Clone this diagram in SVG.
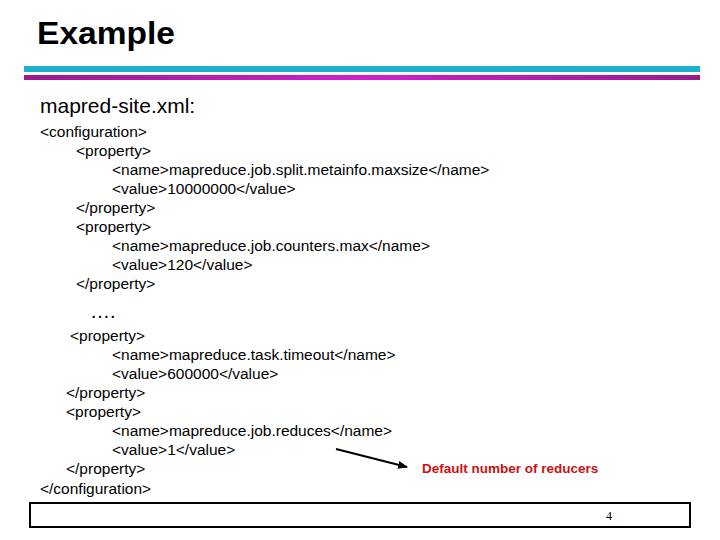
<svg xmlns="http://www.w3.org/2000/svg" width="720" height="540" viewBox="0 0 720 540">
<style>
.t{font-family:"Liberation Sans",Arial,sans-serif;font-size:15.5px;fill:#000}
</style>
<defs>
<linearGradient id="m" x1="0" x2="1"><stop offset="0" stop-color="#9a1a8e"/><stop offset="0.5" stop-color="#d21ed0"/><stop offset="1" stop-color="#9a1a8e"/></linearGradient>
<marker id="a" viewBox="0 0 10 10" refX="9" refY="5" markerWidth="5" markerHeight="5" orient="auto"><path d="M0,1 L10,5 L0,9 z" fill="#000"/></marker>
</defs>
<rect width="720" height="540" fill="#fff"/>
<text x="37" y="44" font-family="'Liberation Sans',Arial,sans-serif" font-weight="bold" font-size="31" fill="#000" textLength="138" lengthAdjust="spacingAndGlyphs">Example</text>
<rect x="24" y="66" width="676" height="6" fill="#1fb0cc"/>
<rect x="24" y="75" width="676" height="5" fill="url(#m)"/>
<g id="content">
<text x="40" y="113" font-family="'Liberation Sans',Arial,sans-serif" font-size="21">mapred-site.xml:</text>
<text class="t" x="40" y="137">&lt;configuration&gt;</text>
<text class="t" x="76" y="156">&lt;property&gt;</text>
<text class="t" x="112" y="175">&lt;name&gt;mapreduce.job.split.metainfo.maxsize&lt;/name&gt;</text>
<text class="t" x="112" y="194">&lt;value&gt;10000000&lt;/value&gt;</text>
<text class="t" x="76" y="213">&lt;/property&gt;</text>
<text class="t" x="76" y="232">&lt;property&gt;</text>
<text class="t" x="112" y="251">&lt;name&gt;mapreduce.job.counters.max&lt;/name&gt;</text>
<text class="t" x="112" y="270">&lt;value&gt;120&lt;/value&gt;</text>
<text class="t" x="76" y="289">&lt;/property&gt;</text>
<text x="90" y="318" font-family="'Liberation Sans',Arial,sans-serif" font-size="20">….</text>
<text class="t" x="70" y="341">&lt;property&gt;</text>
<text class="t" x="112" y="360">&lt;name&gt;mapreduce.task.timeout&lt;/name&gt;</text>
<text class="t" x="112" y="379">&lt;value&gt;600000&lt;/value&gt;</text>
<text class="t" x="66" y="398">&lt;/property&gt;</text>
<text class="t" x="66" y="417">&lt;property&gt;</text>
<text class="t" x="112" y="436">&lt;name&gt;mapreduce.job.reduces&lt;/name&gt;</text>
<text class="t" x="112" y="455">&lt;value&gt;1&lt;/value&gt;</text>
<text class="t" x="66" y="474">&lt;/property&gt;</text>
<text class="t" x="40" y="494">&lt;/configuration&gt;</text>
</g>
<g id="connectors">
<line x1="336" y1="449" x2="407" y2="467" stroke="#000" stroke-width="2" marker-end="url(#a)"/>
</g>
<g id="note">
<text x="422" y="473" font-family="'Liberation Sans',Arial,sans-serif" font-weight="bold" font-size="13.5" fill="#cc1111">Default number of reducers</text>
</g>
<g id="footer">
<rect x="30" y="503" width="660" height="24" fill="none" stroke="#000" stroke-width="2"/>
<text x="606" y="520" font-family="'Liberation Serif',serif" font-size="12" fill="#000">4</text>
</g>
</svg>
